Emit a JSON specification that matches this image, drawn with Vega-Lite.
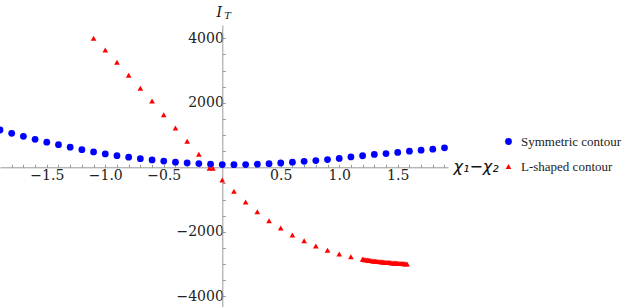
{
  "$schema": "https://vega.github.io/schema/vega-lite/v6.json",
  "width": 448,
  "height": 282,
  "autosize": {"type": "none"},
  "padding": {"left": 0, "top": 25, "right": 175, "bottom": 0},
  "background": "white",
  "config": {"view": {"stroke": null}, "font": "DejaVu Serif", "axis": {"labelOverlap": false, "labelFlush": false, "labelBound": false}},
  "resolve": {"axis": {"x": "independent", "y": "independent"}},
  "data": {
    "values": [
      {"x": -1.9, "y": 1156, "s": "Symmetric contour"},
      {"x": -1.8, "y": 1054, "s": "Symmetric contour"},
      {"x": -1.7, "y": 961, "s": "Symmetric contour"},
      {"x": -1.6, "y": 868, "s": "Symmetric contour"},
      {"x": -1.5, "y": 780, "s": "Symmetric contour"},
      {"x": -1.4, "y": 700, "s": "Symmetric contour"},
      {"x": -1.3, "y": 622, "s": "Symmetric contour"},
      {"x": -1.2, "y": 545, "s": "Symmetric contour"},
      {"x": -1.1, "y": 475, "s": "Symmetric contour"},
      {"x": -1.0, "y": 415, "s": "Symmetric contour"},
      {"x": -0.9, "y": 360, "s": "Symmetric contour"},
      {"x": -0.8, "y": 312, "s": "Symmetric contour"},
      {"x": -0.7, "y": 268, "s": "Symmetric contour"},
      {"x": -0.6, "y": 228, "s": "Symmetric contour"},
      {"x": -0.5, "y": 192, "s": "Symmetric contour"},
      {"x": -0.4, "y": 160, "s": "Symmetric contour"},
      {"x": -0.3, "y": 134, "s": "Symmetric contour"},
      {"x": -0.2, "y": 114, "s": "Symmetric contour"},
      {"x": -0.1, "y": 97, "s": "Symmetric contour"},
      {"x": 0.0, "y": 85, "s": "Symmetric contour"},
      {"x": 0.1, "y": 80, "s": "Symmetric contour"},
      {"x": 0.2, "y": 84, "s": "Symmetric contour"},
      {"x": 0.3, "y": 95, "s": "Symmetric contour"},
      {"x": 0.4, "y": 112, "s": "Symmetric contour"},
      {"x": 0.5, "y": 133, "s": "Symmetric contour"},
      {"x": 0.6, "y": 158, "s": "Symmetric contour"},
      {"x": 0.7, "y": 185, "s": "Symmetric contour"},
      {"x": 0.8, "y": 210, "s": "Symmetric contour"},
      {"x": 0.9, "y": 240, "s": "Symmetric contour"},
      {"x": 1.0, "y": 275, "s": "Symmetric contour"},
      {"x": 1.1, "y": 320, "s": "Symmetric contour"},
      {"x": 1.2, "y": 358, "s": "Symmetric contour"},
      {"x": 1.3, "y": 398, "s": "Symmetric contour"},
      {"x": 1.4, "y": 425, "s": "Symmetric contour"},
      {"x": 1.5, "y": 462, "s": "Symmetric contour"},
      {"x": 1.6, "y": 500, "s": "Symmetric contour"},
      {"x": 1.7, "y": 532, "s": "Symmetric contour"},
      {"x": 1.8, "y": 560, "s": "Symmetric contour"},
      {"x": 1.9, "y": 603, "s": "Symmetric contour"},
      {"x": -1.1, "y": 4000, "s": "L-shaped contour"},
      {"x": -1.0, "y": 3636, "s": "L-shaped contour"},
      {"x": -0.9, "y": 3255, "s": "L-shaped contour"},
      {"x": -0.8, "y": 2852, "s": "L-shaped contour"},
      {"x": -0.7, "y": 2449, "s": "L-shaped contour"},
      {"x": -0.6, "y": 2055, "s": "L-shaped contour"},
      {"x": -0.5, "y": 1631, "s": "L-shaped contour"},
      {"x": -0.4, "y": 1218, "s": "L-shaped contour"},
      {"x": -0.3, "y": 806, "s": "L-shaped contour"},
      {"x": -0.2, "y": 403, "s": "L-shaped contour"},
      {"x": -0.11, "y": -30, "s": "L-shaped contour"},
      {"x": -0.08, "y": -32, "s": "L-shaped contour"},
      {"x": 0.0, "y": -394, "s": "L-shaped contour"},
      {"x": 0.1, "y": -744, "s": "L-shaped contour"},
      {"x": 0.2, "y": -1076, "s": "L-shaped contour"},
      {"x": 0.3, "y": -1376, "s": "L-shaped contour"},
      {"x": 0.4, "y": -1655, "s": "L-shaped contour"},
      {"x": 0.5, "y": -1882, "s": "L-shaped contour"},
      {"x": 0.6, "y": -2099, "s": "L-shaped contour"},
      {"x": 0.7, "y": -2275, "s": "L-shaped contour"},
      {"x": 0.8, "y": -2440, "s": "L-shaped contour"},
      {"x": 0.9, "y": -2573, "s": "L-shaped contour"},
      {"x": 1.0, "y": -2688, "s": "L-shaped contour"},
      {"x": 1.1, "y": -2771, "s": "L-shaped contour"},
      {"x": 1.20, "y": -2850, "s": "L-shaped contour"},
      {"x": 1.21, "y": -2857, "s": "L-shaped contour"},
      {"x": 1.22, "y": -2864, "s": "L-shaped contour"},
      {"x": 1.23, "y": -2870, "s": "L-shaped contour"},
      {"x": 1.24, "y": -2876, "s": "L-shaped contour"},
      {"x": 1.25, "y": -2882, "s": "L-shaped contour"},
      {"x": 1.26, "y": -2888, "s": "L-shaped contour"},
      {"x": 1.27, "y": -2893, "s": "L-shaped contour"},
      {"x": 1.28, "y": -2898, "s": "L-shaped contour"},
      {"x": 1.29, "y": -2903, "s": "L-shaped contour"},
      {"x": 1.30, "y": -2908, "s": "L-shaped contour"},
      {"x": 1.31, "y": -2913, "s": "L-shaped contour"},
      {"x": 1.32, "y": -2917, "s": "L-shaped contour"},
      {"x": 1.33, "y": -2921, "s": "L-shaped contour"},
      {"x": 1.34, "y": -2925, "s": "L-shaped contour"},
      {"x": 1.35, "y": -2929, "s": "L-shaped contour"},
      {"x": 1.36, "y": -2933, "s": "L-shaped contour"},
      {"x": 1.37, "y": -2937, "s": "L-shaped contour"},
      {"x": 1.38, "y": -2940, "s": "L-shaped contour"},
      {"x": 1.39, "y": -2944, "s": "L-shaped contour"},
      {"x": 1.40, "y": -2947, "s": "L-shaped contour"},
      {"x": 1.41, "y": -2950, "s": "L-shaped contour"},
      {"x": 1.42, "y": -2953, "s": "L-shaped contour"},
      {"x": 1.43, "y": -2956, "s": "L-shaped contour"},
      {"x": 1.44, "y": -2959, "s": "L-shaped contour"},
      {"x": 1.45, "y": -2962, "s": "L-shaped contour"},
      {"x": 1.46, "y": -2965, "s": "L-shaped contour"},
      {"x": 1.47, "y": -2968, "s": "L-shaped contour"},
      {"x": 1.48, "y": -2970, "s": "L-shaped contour"},
      {"x": 1.49, "y": -2973, "s": "L-shaped contour"},
      {"x": 1.50, "y": -2975, "s": "L-shaped contour"},
      {"x": 1.51, "y": -2978, "s": "L-shaped contour"},
      {"x": 1.52, "y": -2980, "s": "L-shaped contour"},
      {"x": 1.53, "y": -2983, "s": "L-shaped contour"},
      {"x": 1.54, "y": -2985, "s": "L-shaped contour"},
      {"x": 1.55, "y": -2988, "s": "L-shaped contour"},
      {"x": 1.56, "y": -2991, "s": "L-shaped contour"},
      {"x": 1.57, "y": -2994, "s": "L-shaped contour"},
      {"x": 1.58, "y": -2997, "s": "L-shaped contour"}
    ]
  },
  "layer": [
    {
      "mark": {"type": "point", "filled": true, "clip": true, "opacity": 1, "strokeWidth": 0},
      "encoding": {
        "x": {
          "field": "x",
          "type": "quantitative",
          "scale": {"domain": [-1.9, 1.93], "nice": false, "zero": false},
          "axis": {
            "orient": "bottom",
            "offset": -139.7,
            "values": [-1.8, -1.7, -1.6, -1.5, -1.4, -1.3, -1.2, -1.1, -1.0, -0.9, -0.8, -0.7, -0.6, -0.5, -0.4, -0.3, -0.2, -0.1, 0.1, 0.2, 0.3, 0.4, 0.5, 0.6, 0.7, 0.8, 0.9, 1.0, 1.1, 1.2, 1.3, 1.4, 1.5, 1.6, 1.7, 1.8, 1.9],
            "labelExpr": "abs(datum.value*2 - round(datum.value*2)) < 0.01 ? format(datum.value, '.1f') : ''",
            "grid": false,
            "tickSize": -3,
            "tickColor": "#999999",
            "domainColor": "#999999",
            "labelFont": "DejaVu Serif",
            "labelFontSize": 14,
            "labelColor": "#222222",
            "labelPadding": 4,
            "labelFlush": false,
            "labelOverlap": false,
            "labelBound": false,
            "title": "χ₁−χ₂",
            "titleX": 453,
            "titleY": 4,
            "titleAlign": "left",
            "titleBaseline": "alphabetic",
            "titleFont": "DejaVu Sans",
            "titleFontStyle": "italic",
            "titleFontWeight": "normal",
            "titleFontSize": 16,
            "titleColor": "#111111"
          }
        },
        "y": {
          "field": "y",
          "type": "quantitative",
          "scale": {"domain": [-4331, 4411], "nice": false, "zero": false},
          "axis": {
            "orient": "left",
            "offset": -222.3,
            "values": [-4000, -3500, -3000, -2500, -2000, -1500, -1000, -500, 500, 1000, 1500, 2000, 2500, 3000, 3500, 4000],
            "labelExpr": "datum.value % 2000 == 0 ? format(datum.value, 'd') : ''",
            "grid": false,
            "tickSize": -3,
            "tickColor": "#999999",
            "domainColor": "#999999",
            "labelFont": "DejaVu Serif",
            "labelFontSize": 14,
            "labelColor": "#222222",
            "labelPadding": 2,
            "labelFlush": false,
            "labelOverlap": false,
            "labelBound": false,
            "title": "I",
            "titleAngle": 0,
            "titleX": -6.3,
            "titleY": -8.3,
            "titleAlign": "left",
            "titleBaseline": "alphabetic",
            "titleFont": "DejaVu Serif",
            "titleFontStyle": "italic",
            "titleFontWeight": "normal",
            "titleFontSize": 14,
            "titleColor": "#111111"
          }
        },
        "color": {
          "field": "s",
          "type": "nominal",
          "scale": {"domain": ["Symmetric contour", "L-shaped contour"], "range": ["#0000ff", "#ff0000"]},
          "legend": {
            "title": null,
            "orient": "none",
            "legendX": 502,
            "legendY": 110,
            "padding": 0,
            "labelFont": "Liberation Serif",
            "labelFontSize": 13,
            "labelColor": "#222222",
            "labelOffset": 6,
            "labelLimit": 200,
            "rowPadding": 11,
            "symbolStrokeWidth": 0
          }
        },
        "shape": {
          "field": "s",
          "type": "nominal",
          "scale": {"domain": ["Symmetric contour", "L-shaped contour"], "range": ["circle", "triangle-up"]}
        },
        "size": {
          "field": "s",
          "type": "nominal",
          "scale": {"domain": ["Symmetric contour", "L-shaped contour"], "range": [46, 32]}
        }
      }
    },
    {
      "data": {"values": [{}]},
      "mark": {"type": "text", "text": "T", "align": "left", "baseline": "alphabetic", "dx": 2, "font": "DejaVu Serif", "fontStyle": "italic", "fontSize": 10, "color": "#111111"},
      "encoding": {
        "x": {"datum": 0, "axis": null},
        "y": {"datum": 4600, "axis": null}
      }
    }
  ]
}
